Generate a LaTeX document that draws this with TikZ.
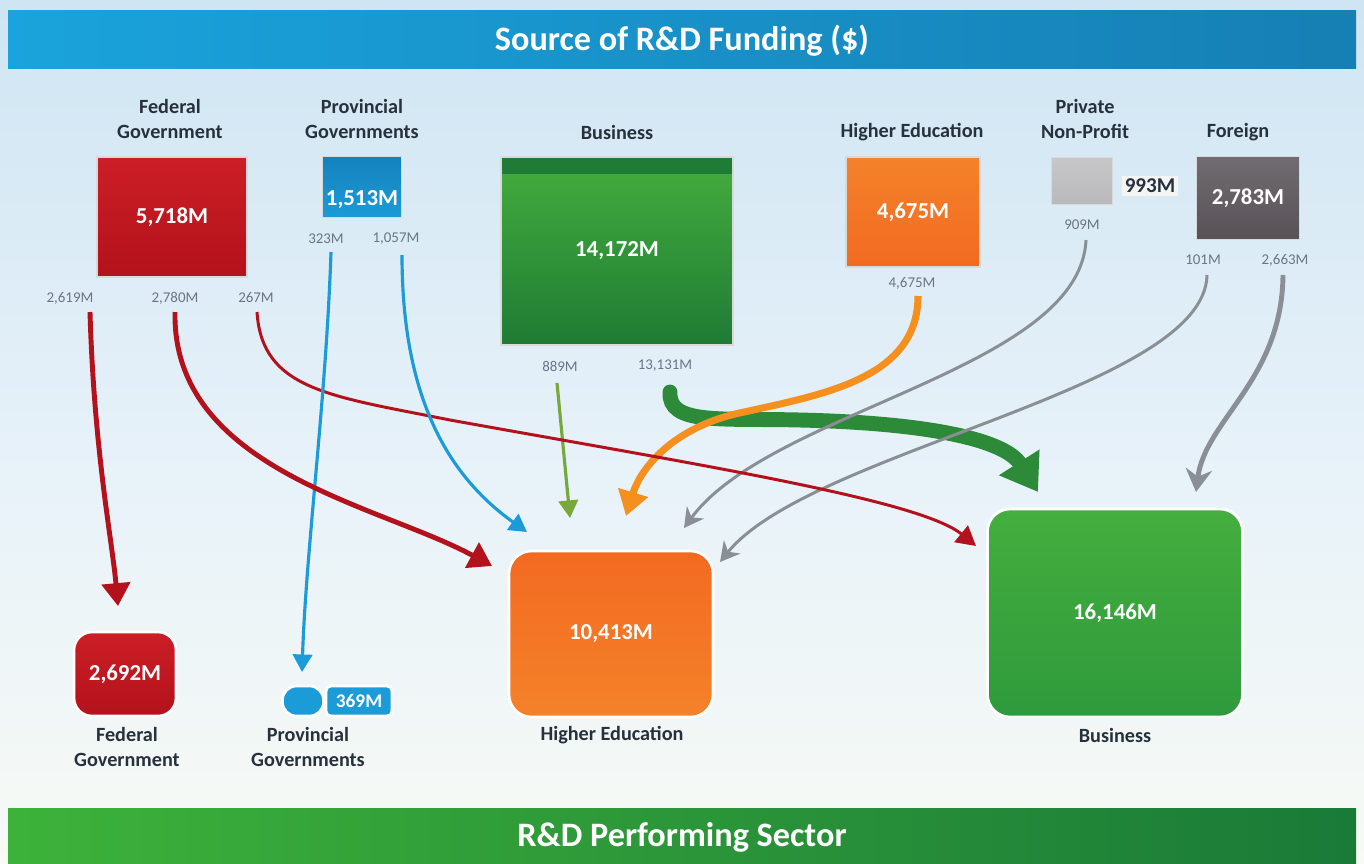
\documentclass[tikz,border=0pt]{standalone}
\usepackage{fontspec}
\setmainfont{Carlito}
\usetikzlibrary{arrows.meta}
\definecolor{bgtop}{HTML}{CFE5F3}
\definecolor{bgmid}{HTML}{E8F2F9}
\definecolor{bgbot}{HTML}{F7FAF5}
\definecolor{fedred}{HTML}{B3121C}
\definecolor{fedredlt}{HTML}{CC1E26}
\definecolor{provblue}{HTML}{1B9BD7}
\definecolor{provbluedk}{HTML}{1582BC}
\definecolor{busgreen}{HTML}{2F9A3C}
\definecolor{busgreenlt}{HTML}{44AE3E}
\definecolor{busgreendk}{HTML}{1F7B35}
\definecolor{heorange}{HTML}{F26A21}
\definecolor{heorangelt}{HTML}{F4822A}
\definecolor{pnpgrey}{HTML}{B9B9BB}
\definecolor{forgrey}{HTML}{585257}
\definecolor{labeltxt}{HTML}{27313C}
\definecolor{valtxt}{HTML}{6B7584}
\definecolor{greyarrow}{HTML}{8A8E95}
\definecolor{greenarrow}{HTML}{2D8A38}
\definecolor{olivearrow}{HTML}{78A83C}
\definecolor{orangearrow}{HTML}{F5901F}
\definecolor{titleblue}{HTML}{1AA3DC}
\definecolor{titlebluedk}{HTML}{167FB4}
\definecolor{titlegreen}{HTML}{3DB23A}
\definecolor{titlegreendk}{HTML}{1A7A38}
\tikzset{
  sectorlabel/.style={font=\bfseries\fontsize{11.5}{14}\selectfont, text=labeltxt, align=center},
  flowval/.style={font=\fontsize{8.5}{10}\selectfont, text=valtxt},
  boxval/.style={font=\bfseries\fontsize{13}{15}\selectfont, text=white},
  titletext/.style={font=\bfseries\fontsize{19.5}{22}\selectfont, text=white},
  srcbox/.style={draw=white!70!gray, line width=0.8pt, inner sep=0pt},
  perfbox/.style={draw=white, line width=1.5pt, rounded corners=0.45cm, inner sep=0pt},
  redflow/.style={draw=fedred, line width=2.8pt, -{Triangle[length=13pt,width=16pt]}},
  redthin/.style={draw=fedred, line width=1.7pt, -{Triangle[length=11pt,width=12pt]}},
  blueflow/.style={draw=provblue, line width=1.8pt, -{Triangle[length=10pt,width=11pt]}},
  greyflow/.style={draw=greyarrow, line width=1.7pt, -{Stealth[length=11pt,width=12pt]}},
  greythick/.style={draw=greyarrow, line width=2.8pt, -{Stealth[length=13pt,width=15pt]}},
  olivflow/.style={draw=olivearrow, line width=1.8pt, -{Triangle[length=10pt,width=11pt]}},
  orangeflow/.style={draw=orangearrow, line width=4pt, -{Triangle[length=14pt,width=17pt]}},
  greenflow/.style={draw=greenarrow, line width=8.5pt, line cap=round, -{Triangle[length=20pt,width=26pt]}}
}
\begin{document}
\begin{tikzpicture}[x=0.02cm,y=-0.02cm]
\useasboundingbox (0,0) rectangle (1364,863);
% background
\shade[top color=bgtop, bottom color=bgmid] (0,0) rectangle (1364,480);
\shade[top color=bgmid, bottom color=bgbot] (0,480) rectangle (1364,863);
% title bars
\shade[left color=titleblue, right color=titlebluedk] (8,10) rectangle (1356,68);
\node[titletext] (title) at (682,41) {Source of R\&D Funding (\$)};
\shade[left color=titlegreen, right color=titlegreendk] (8,808) rectangle (1356,863);
\node[titletext] (bottomtitle) at (682,837) {R\&D Performing Sector};

% ---------- source sectors ----------
\node[sectorlabel] (fedlab) at (170,119) {Federal\\Government};
\node[srcbox, top color=fedredlt, bottom color=fedred, minimum width=3cm, minimum height=2.4cm, boxval] (fedsrc) at (172,217) {5,718M};
\node[flowval] (v2619) at (70,298) {2,619M};
\node[flowval] (v2780) at (175,298) {2,780M};
\node[flowval] (v267) at (256,298) {267M};

\node[sectorlabel] (provlab) at (362,119) {Provincial\\Governments};
\node[srcbox, top color=provbluedk, bottom color=provblue, minimum width=1.58cm, minimum height=1.22cm] (provsrc) at (362,187) {};
\node[boxval] (provsrcval) at (362,200) {1,513M};
\node[flowval] (v323) at (326,239) {323M};
\node[flowval] (v1057) at (396,239) {1,057M};

\node[sectorlabel] (buslab) at (617,132) {Business};
\node[srcbox, top color=busgreenlt, bottom color=busgreendk, minimum width=4.64cm, minimum height=3.76cm, boxval] (bussrc) at (617,251) {14,172M};
\fill[busgreendk] (502,158) rectangle (732,174);
\node[flowval] (v889) at (560,366) {889M};
\node[flowval] (v13131) at (665,366) {13,131M};

\node[sectorlabel] (helab) at (912,132) {Higher Education};
\node[srcbox, top color=heorangelt, bottom color=heorange, minimum width=2.68cm, minimum height=2.2cm, boxval] (hesrc) at (913,212) {4,675M};
\node[flowval] (v4675) at (912,283) {4,675M};

\node[sectorlabel] (pnplab) at (1085,119) {Private\\Non-Profit};
\node[srcbox, top color=pnpgrey!80!white, bottom color=pnpgrey, minimum width=1.22cm, minimum height=0.94cm] (pnpsrc) at (1082,181) {};
\node[font=\bfseries\fontsize{12}{14}\selectfont, text=labeltxt, fill=white!85!pnpgrey, inner sep=1.5pt] (pnpval) at (1150,186) {993M};
\node[flowval] (v909) at (1082,225) {909M};

\node[sectorlabel] (forlab) at (1238,132) {Foreign};
\node[srcbox, top color=forgrey!85!white, bottom color=forgrey, minimum width=2.06cm, minimum height=1.66cm, boxval] (forsrc) at (1248,198) {2,783M};
\node[flowval] (v101) at (1203,260) {101M};
\node[flowval] (v2663) at (1285,260) {2,663M};

% ---------- performing sectors ----------
\node[perfbox, rounded corners=0.36cm, top color=fedredlt, bottom color=fedred, minimum width=2.04cm, minimum height=1.68cm, boxval] (fedperf) at (125,674) {2,692M};
\node[sectorlabel] (fedperflab) at (127,747) {Federal\\Government};

\node[perfbox, rounded corners=0.28cm, fill=provblue, minimum width=0.82cm, minimum height=0.6cm] (provperf) at (303,701) {};
\node[perfbox, rounded corners=0.1cm, fill=provblue, minimum width=1.32cm, minimum height=0.6cm, boxval, font=\bfseries\fontsize{11}{13}\selectfont] (provperfval) at (359,701) {369M};
\node[sectorlabel] (provperflab) at (308,747) {Provincial\\Governments};

\node[perfbox, top color=heorange, bottom color=heorangelt, minimum width=4.08cm, minimum height=3.32cm, boxval] (heperf) at (611,634) {10,413M};
\node[sectorlabel] (heperflab) at (612,735) {Higher Education};

\node[perfbox, top color=busgreenlt, bottom color=busgreen, minimum width=5.1cm, minimum height=4.16cm, boxval] (busperf) at (1115,613) {16,146M};
\node[sectorlabel] (busperflab) at (1115,735) {Business};

% ---------- connector end points ----------
\coordinate (fa0) at (90,312);   \coordinate (fa1) at (118,606);
\coordinate (fb0) at (175,312);  \coordinate (fb1) at (492,566);
\coordinate (fc0) at (257,312);  \coordinate (fc1) at (976,546);
\coordinate (pa0) at (331,252);  \coordinate (pa1) at (302,672);
\coordinate (pb0) at (402,255);  \coordinate (pb1) at (527,532);
\coordinate (ba0) at (557,383);  \coordinate (ba1) at (570,518);
\coordinate (bb0) at (670,392);  \coordinate (bb1) at (1038,492);
\coordinate (ha0) at (918,296);  \coordinate (ha1) at (626,516);
\coordinate (na0) at (1086,240); \coordinate (na1) at (684,528);
\coordinate (ra0) at (1207,275); \coordinate (ra1) at (720,562);
\coordinate (rb0) at (1283,275); \coordinate (rb1) at (1196,492);

% ---------- flows ----------
\draw[greenflow] (bb0) .. controls (668,425) and (720,418) .. (800,420) .. controls (930,423) and (1005,440) .. (bb1);
\draw[orangeflow] (ha0) .. controls (918,380) and (820,395) .. (735,414) .. controls (670,430) and (640,470) .. (ha1);
\draw[greyflow] (na0) .. controls (1080,370) and (770,410) .. (na1);
\draw[greyflow] (ra0) .. controls (1205,390) and (810,450) .. (ra1);
\draw[greythick] (rb0) .. controls (1282,380) and (1205,420) .. (rb1);
\draw[olivflow] (ba0) -- (ba1);
\draw[redthin] (fc0) .. controls (262,390) and (330,396) .. (450,420) .. controls (700,465) and (920,500) .. (fc1);
\draw[blueflow] (pa0) .. controls (326,400) and (306,550) .. (pa1);
\draw[blueflow] (pb0) .. controls (402,385) and (440,470) .. (pb1);
\draw[redflow] (fa0) .. controls (94,450) and (112,540) .. (fa1);
\draw[redflow] (fb0) .. controls (172,470) and (380,505) .. (fb1);
\end{tikzpicture}
\end{document}
